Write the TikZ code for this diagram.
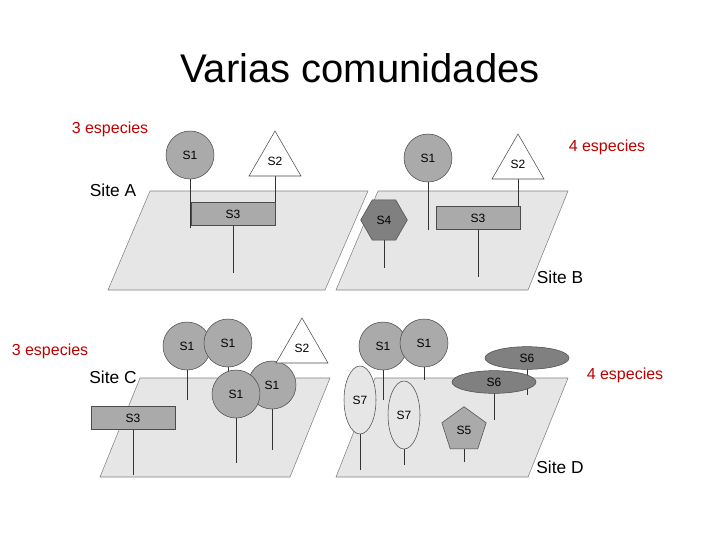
\documentclass[tikz,border=0pt]{standalone}
\usepackage{fontspec}
\setmainfont{Liberation Sans}
\usetikzlibrary{shapes.geometric,backgrounds}
\definecolor{planegray}{HTML}{E6E6E6}
\definecolor{midgray}{HTML}{AAAAAA}
\definecolor{darkgray}{HTML}{808080}
\tikzset{
  plane/.style={draw=gray, fill=planegray},
  sp/.style={draw=black!70, fill=midgray, font=\fontsize{9}{10}\selectfont, inner sep=0pt},
  circ/.style={sp, circle, minimum size=36},
  tri/.style={sp, fill=white, regular polygon, regular polygon sides=3, minimum size=45},
  bar/.style={sp, rectangle, minimum width=63, minimum height=17},
  stick/.style={draw=black!80},
  red/.style={text=red!75!black, font=\fontsize{12}{14}\selectfont},
  site/.style={font=\fontsize{13}{15}\selectfont}
}
\begin{document}
\begin{tikzpicture}[x=0.75pt,y=-0.75pt]
  \useasboundingbox (0,0) rectangle (720,540);

  % titulo y etiquetas
  \node (title) at (360,68) {\fontsize{30}{34}\selectfont Varias comunidades};
  \node[red] (ra) at (110,129) {3 especies};
  \node[red] (rb) at (607,147) {4 especies};
  \node[red] (rc) at (50,351) {3 especies};
  \node[red] (rd) at (625,375) {4 especies};

  % Site A
  \node[circ] (a1) at (190,155) {S1};
  \node[tri] (a2) at (275,161) {\raisebox{-4pt}{S2}};
  \node[bar] (a3) at (233,214) {S3};
  \coordinate (a1e) at (190,228);
  \coordinate (a2e) at (275,205);
  \coordinate (a3e) at (233,273);
  \node[site] (sa) at (113,190) {Site A};

  % Site B
  \node[circ] (b1) at (428,158) {S1};
  \node[tri] (b2) at (518,164) {\raisebox{-4pt}{S2}};
  \node[bar] (b3) at (478,218) {S3};
  \node[sp, fill=darkgray, regular polygon, regular polygon sides=6, minimum size=35] (b4) at (384,220) {S4};
  \coordinate (b1e) at (428,230);
  \coordinate (b2e) at (518,208);
  \coordinate (b3e) at (478,277);
  \coordinate (b4e) at (384,268);
  \node[site] (sb) at (560,277) {Site B};

  % Site C
  \node[circ] (c1) at (187,346) {S1};
  \node[circ] (c2) at (228,343) {S1};
  \node[circ] (c4) at (272,385) {S1};
  \node[circ] (c3) at (236,394) {S1};
  \node[tri] (c5) at (302,348) {\raisebox{-4pt}{S2}};
  \node[bar] (c6) at (133,418) {S3};
  \coordinate (c1e) at (187,400);
  \coordinate (c2e) at (228,372);
  \coordinate (c3e) at (236,463);
  \coordinate (c4e) at (272,450);
  \coordinate (c6e) at (133,475);
  \node[site] (sc) at (113,377) {Site C};

  % Site D
  \node[circ] (d1) at (383,346) {S1};
  \node[circ] (d2) at (424,343) {S1};
  \node[sp, fill=darkgray, ellipse, minimum width=63, minimum height=17] (d6) at (527,358) {S6};
  \node[sp, fill=darkgray, ellipse, minimum width=63, minimum height=17] (d7) at (494,382) {S6};
  \node[sp, fill=planegray, ellipse, minimum width=24, minimum height=51] (d8) at (360,400) {S7};
  \node[sp, fill=planegray, ellipse, minimum width=24, minimum height=51] (d9) at (404,415) {S7};
  \node[sp, regular polygon, regular polygon sides=5, minimum size=35] (d5) at (464,430) {S5};
  \coordinate (d1e) at (383,400);
  \coordinate (d2e) at (424,380);
  \coordinate (d6e) at (527,395);
  \coordinate (d7e) at (494,420);
  \coordinate (d8e) at (360,470);
  \coordinate (d9e) at (404,465);
  \coordinate (d5e) at (464,462);
  \node[site] (sd) at (560,467) {Site D};

  \begin{pgfonlayer}{background}
    \draw[plane] (108,290) -- (150,191) -- (368,191) -- (325,290) -- cycle;
    \draw[plane] (336,290) -- (378,191) -- (568,191) -- (528,290) -- cycle;
    \draw[plane] (100,477) -- (140,378) -- (330,378) -- (290,477) -- cycle;
    \draw[plane] (336,477) -- (375,378) -- (568,378) -- (528,477) -- cycle;
    % tallos
    \foreach \s in {a1,a2,a3,b1,b2,b3,b4,c1,c2,c3,c4,c6,d1,d2,d6,d7,d8,d9,d5}
      \draw[stick] (\s.center) -- (\s e);
  \end{pgfonlayer}
\end{tikzpicture}
\end{document}
